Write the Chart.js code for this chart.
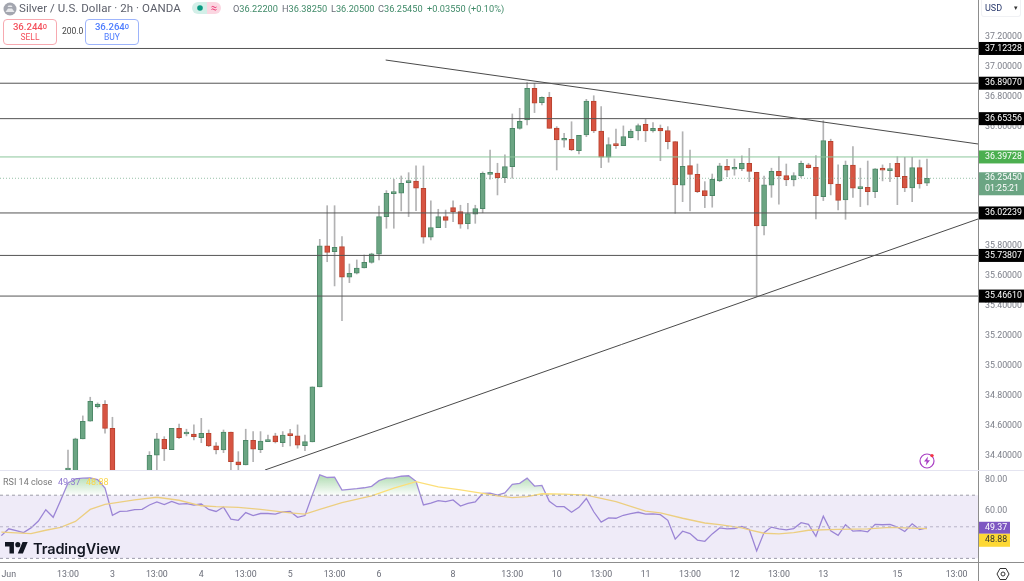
<!DOCTYPE html>
<html lang="en">
<head>
<meta charset="UTF-8" />
<title>Silver / U.S. Dollar 2h</title>
<script src="https://cdn.jsdelivr.net/npm/chart.js"></script>
<style>
  html, body { margin: 0; padding: 0; background: #fff; overflow: hidden; }
  body { width: 1024px; height: 581px; position: relative; font-family: Roboto, Arial, sans-serif; }
  canvas { position: absolute; left: 0; display: block; }
  #priceChart { top: 0; }
  #rsiChart { top: 470px; }
  .abs { position: absolute; white-space: nowrap; }
  .title { left: 19px; top: 1px; font-size: 11.5px; line-height: 15px; color: #5d606b; letter-spacing: .05px; }
  .ohlc { top: 2px; font-size: 9.2px; line-height: 13px; color: #3f8a68; }
  .ohlc b { font-weight: 400; color: #6a6d78; }
  .tradeBox { top: 19px; width: 52px; height: 23px; border: 1px solid; border-radius: 4px; text-align: center; font-size: 9.6px; font-weight: 500; line-height: 11px; padding-top: 1px; }
  .tradeBox small { font-size: 7.5px; vertical-align: 1px; }
  .tradeBox span { display: block; font-size: 8.5px; font-weight: 400; }
  .sell { left: 3px; color: #f4525e; border-color: #f7a9b0; }
  .buy { left: 85px; color: #4d7cfe; border-color: #9db4fb; }
  .spread { left: 62px; top: 25px; font-size: 8.5px; line-height: 12px; color: #444; }
  .usd { left: 981px; top: 0; width: 40px; height: 17px; border: 1px solid #f0f1f4; border-top: none; border-radius: 0 0 3px 3px; font-size: 9px; line-height: 17px; color: #2a3a6e; box-sizing: border-box; padding-left: 3px; }
  .usd i { position: absolute; right: 2px; top: 0; font-style: normal; font-size: 7px; color: #333; }
  .rsiLegend { left: 3px; top: 476px; font-size: 9px; line-height: 13px; color: #777; }
  .rsiLegend em { position: absolute; top: 0; font-style: normal; }
  .logoText { left: 33px; top: 539px; font-family: Inter, Arial, sans-serif; font-size: 14.5px; line-height: 19px; font-weight: 600; color: #131722; letter-spacing: -.1px; }
  .rule { position: absolute; }
</style>
</head>
<body>
<canvas id="priceChart" width="1024" height="470"></canvas>
<canvas id="rsiChart" width="1024" height="111"></canvas>

<div class="rule" style="left:978px;top:0;width:1px;height:581px;background:#8d8d8d"></div>
<div class="rule" style="left:0;top:470px;width:1024px;height:1px;background:#e4e4f0"></div>
<div class="rule" style="left:0;top:562px;width:1024px;height:1px;background:#8d8d8d"></div>

<svg class="abs" style="left:3px;top:2px" width="14" height="14" viewBox="0 0 14 14">
  <circle cx="7" cy="7" r="6.5" fill="#a3a6af"/><path d="M2.5 10 L5 6.5 H9 L11.5 10 Z" fill="#e8e9ec"/><path d="M4.5 5 H9.5 L8.5 3.5 H5.5 Z" fill="#e8e9ec"/>
</svg>
<div class="abs title">Silver / U.S. Dollar · 2h · OANDA</div>
<svg class="abs" style="left:192px;top:2px" width="29" height="12" viewBox="0 0 29 12">
  <path d="M6 0 H15 V12 H6 A6 6 0 0 1 6 0 Z" fill="#d3efe8"/><path d="M15 0 H23 A6 6 0 0 1 23 12 H15 Z" fill="#fbd6e1"/>
  <circle cx="8" cy="6" r="2.8" fill="#089981"/>
  <path d="M19.5 5 q1.2 -1.2 2.5 0 t2.5 0 M19.5 7.5 q1.2 -1.2 2.5 0 t2.5 0" stroke="#e91e63" stroke-width=".9" fill="none"/>
</svg>
<div class="abs ohlc" style="left:233px"><b>O</b>36.22200</div>
<div class="abs ohlc" style="left:282px"><b>H</b>36.38250</div>
<div class="abs ohlc" style="left:331px"><b>L</b>36.20500</div>
<div class="abs ohlc" style="left:378px"><b>C</b>36.25450</div>
<div class="abs ohlc" style="left:427px">+0.03550 (+0.10%)</div>

<div class="abs tradeBox sell">36.244<small>0</small><span>SELL</span></div>
<div class="abs spread">200.0</div>
<div class="abs tradeBox buy">36.264<small>0</small><span>BUY</span></div>
<div class="abs usd">USD<i>▾</i></div>

<div class="abs rsiLegend">RSI 14 close<em style="color:#8f78cf;left:55px">49.37</em><em style="color:#fbd54a;left:83px">48.88</em></div>

<svg class="abs" style="left:5px;top:542px" width="23" height="12" viewBox="0 0 36 18.5">
  <path d="M14 18H7V7H0V0h14v18zM28 18h-8l7.5-18h8L28 18z" fill="#131722"/><circle cx="20" cy="4" r="4" fill="#131722"/>
</svg>
<div class="abs logoText">TradingView</div>

<svg class="abs" style="left:918px;top:452px" width="18" height="18" viewBox="0 0 18 18">
  <circle cx="9" cy="9" r="7" fill="none" stroke="#a93fc4" stroke-width="1.2"/>
  <path d="M10 4.5 L6 9.6 H8.6 L7.8 13.5 L12 8.2 H9.4 Z" fill="#a93fc4"/>
  <circle cx="14" cy="3.6" r="1.7" fill="#f23645"/>
</svg>
<svg class="abs" style="left:996px;top:567px" width="14" height="14" viewBox="0 0 14 14">
  <path d="M4 1.5 H10 L13 7 L10 12.5 H4 L1 7 Z" fill="none" stroke="#333" stroke-width="1"/><circle cx="7" cy="7" r="2" fill="none" stroke="#333" stroke-width="1"/>
</svg>

<script>
  // candles (2h bars, bar 0 is 13:00 on 2 June)
  const opens = [
    34.296,34.296,34.510,34.628,34.726,34.742,34.581,34.235,34.200,34.180,
    34.220,34.270,34.401,34.508,34.438,34.581,34.543,34.543,34.518,34.548,
    34.463,34.436,34.555,34.356,34.336,34.501,34.438,34.492,34.530,34.485,
    34.536,34.530,34.465,34.490,34.858,35.802,35.763,35.797,35.592,35.619,
    35.654,35.692,35.746,35.998,36.152,36.154,36.225,36.235,36.188,35.860,
    35.924,35.998,36.058,36.031,35.951,36.014,36.051,36.281,36.290,36.259,
    36.332,36.589,36.645,36.857,36.761,36.797,36.591,36.509,36.516,36.439,
    36.544,36.772,36.571,36.395,36.480,36.473,36.526,36.571,36.616,36.571,
    36.589,36.573,36.500,36.208,36.339,36.281,36.172,36.138,36.237,36.335,
    36.315,36.317,36.355,36.295,35.935,36.208,36.301,36.272,36.243,36.270,
    36.344,36.328,36.132,36.502,36.216,36.109,36.342,36.185,36.194,36.165,
    36.322,36.306,36.355,36.268,36.190,36.326,36.222
  ];
  const closes = [
    34.309,34.510,34.628,34.762,34.744,34.581,34.235,34.200,34.180,34.220,
    34.270,34.401,34.510,34.443,34.581,34.518,34.548,34.525,34.548,34.463,
    34.436,34.555,34.358,34.336,34.501,34.441,34.496,34.501,34.490,34.536,
    34.532,34.468,34.492,34.858,35.802,35.759,35.793,35.592,35.619,35.654,
    35.692,35.748,35.998,36.154,36.156,36.221,36.235,36.188,35.860,35.924,
    35.998,35.973,36.031,35.947,36.018,36.051,36.288,36.290,36.259,36.332,
    36.589,36.636,36.857,36.757,36.797,36.589,36.511,36.518,36.444,36.542,
    36.772,36.571,36.395,36.480,36.473,36.533,36.571,36.607,36.571,36.589,
    36.571,36.500,36.210,36.335,36.281,36.165,36.138,36.248,36.337,36.308,
    36.324,36.355,36.301,35.935,36.210,36.301,36.270,36.243,36.272,36.355,
    36.326,36.138,36.506,36.216,36.107,36.342,36.188,36.198,36.165,36.317,
    36.308,36.310,36.265,36.190,36.326,36.216,36.2545
  ];
  const highs = [
    34.436,34.515,34.664,34.789,34.751,34.766,34.655,34.270,34.250,34.260,
    34.290,34.425,34.548,34.525,34.581,34.610,34.575,34.604,34.648,34.570,
    34.485,34.570,34.555,34.425,34.575,34.559,34.559,34.536,34.548,34.559,
    34.575,34.604,34.536,34.858,35.846,36.071,36.071,35.864,35.681,35.708,
    35.741,35.753,36.069,36.172,36.248,36.270,36.292,36.337,36.337,36.103,
    36.047,36.042,36.103,36.074,36.087,36.074,36.297,36.444,36.355,36.411,
    36.685,36.723,36.895,36.890,36.800,36.830,36.600,36.556,36.633,36.542,
    36.783,36.807,36.734,36.526,36.583,36.605,36.583,36.618,36.650,36.627,
    36.611,36.600,36.500,36.566,36.444,36.350,36.232,36.283,36.355,36.382,
    36.384,36.404,36.455,36.295,36.270,36.322,36.399,36.350,36.292,36.370,
    36.355,36.406,36.640,36.516,36.344,36.370,36.466,36.322,36.370,36.320,
    36.344,36.355,36.399,36.395,36.395,36.377,36.3825
  ];
  const lows = [
    34.269,34.282,34.510,34.628,34.717,34.548,34.168,34.150,34.120,34.140,
    34.190,34.240,34.289,34.365,34.438,34.512,34.530,34.503,34.485,34.458,
    34.409,34.418,34.290,34.270,34.336,34.358,34.418,34.492,34.483,34.458,
    34.463,34.448,34.431,34.490,34.858,35.696,35.534,35.302,35.556,35.614,
    35.654,35.686,35.708,35.920,35.920,36.036,35.998,36.038,35.820,35.842,
    35.924,35.924,35.964,35.920,35.915,35.953,36.024,36.248,36.143,36.225,
    36.255,36.583,36.611,36.694,36.745,36.589,36.310,36.462,36.439,36.417,
    36.533,36.560,36.326,36.362,36.455,36.473,36.524,36.511,36.500,36.563,
    36.372,36.451,36.020,36.098,36.036,36.158,36.058,36.061,36.232,36.265,
    36.275,36.306,36.232,35.462,35.875,36.127,36.081,36.205,36.203,36.261,
    36.322,35.982,36.105,36.143,36.042,35.980,36.127,36.065,36.076,36.125,
    36.237,36.232,36.078,36.165,36.098,36.188,36.205
  ];

  // drawn levels and trendlines, [bar, price]
  const levelPrices = [37.12328, 36.89070, 36.65356, 36.02239, 35.73807, 35.46610];
  const greenLevel = 36.39728;
  const lastPrice = 36.2545;
  const countdown = '01:25:21';
  const trendDown = [[42.9, 37.046], [122.9, 36.484]];
  const trendUp = [[26.6, 34.302], [122.9, 35.982]];

  // RSI starts 9 bars before bar 0, at the left edge
  const rsiFirstBar = -9;
  const rsiValues = [
    44.4,48.7,47.6,46.3,49.3,53.6,60.8,56.0,66.6,77.7,
    80.3,80.8,81.0,79.9,74.5,57.3,59.7,59.9,60.8,61.0,
    63.8,65.7,64.0,66.1,64.4,64.6,63.8,64.4,61.0,59.7,
    62.5,54.9,54.1,59.0,57.1,58.4,58.4,58.0,59.5,59.7,
    56.0,57.1,70.2,82.9,81.2,81.4,73.2,73.7,74.1,74.7,
    75.6,79.2,80.8,81.0,82.0,82.3,78.8,63.8,65.0,66.6,
    65.9,67.0,63.1,64.8,65.7,71.1,71.3,70.0,71.5,76.9,
    77.5,80.8,75.8,76.2,66.1,62.7,62.7,59.2,62.3,67.9,
    59.5,53.0,55.6,55.4,57.3,58.4,59.2,58.0,58.2,57.7,
    54.1,42.2,47.2,45.7,41.6,40.8,45.5,49.3,48.7,48.9,
    50.2,48.3,34.7,46.3,49.8,48.7,48.1,48.9,52.6,51.5,
    44.0,56.7,47.4,44.6,51.3,47.2,47.6,46.8,51.5,51.3,
    51.5,49.8,47.0,51.9,48.3,49.37
  ];
  const rsiMaBars = [
    -9,-5,-3,-1,1,3,5,9,12,15,18,20,23,26,30,32,34,37,41,44,47,50,53,56,58,60,
    62,64,67,70,74,78,80,83,86,88,91,92,94,96,98,100,104,108,111,116
  ];
  const rsiMaValues = [
    46.6,45.7,47.8,49.6,53.4,61.0,64.2,67.0,68.7,66.8,63.3,62.7,62.3,61.0,58.8,58.0,61.0,65.3,69.6,74.5,78.6,75.2,73.4,71.1,69.6,68.5,
    69.1,70.9,70.7,70.0,65.9,59.9,58.8,55.4,52.4,51.3,49.3,48.1,45.9,45.5,46.3,47.8,48.3,48.7,49.6,48.88
  ];
  const rsiUpper = 70, rsiMiddle = 50, rsiLower = 30;
  const rsiLast = 49.37, rsiMaLast = 48.88;

  // axis ticks
  const priceTicks = [34.4,34.6,34.8,35.0,35.2,35.4,35.6,35.8,36.0,36.2,36.4,36.6,36.8,37.0,37.2];
  const rsiTicks = [60, 80];
  const timeTickBars = [-8,0,6,12,18,24,30,36,42,52,60,66,72,78,84,90,96,102,112,120];
  const timeTickLabels = ['Jun','13:00','3','13:00','4','13:00','5','13:00','6','8','13:00','10','13:00','11','13:00','12','13:00','13','15','13:00'];

  const xMin = -9.183, xMax = 122.89;
  const axisWidth = 46;
  const font = { family: 'Roboto', size: 8.8 };

  const UP = '#6ba583', UP_EDGE = '#4d8868';
  const DOWN = '#d75442', DOWN_EDGE = '#b8432f';
  const bars = opens.map((o, i) => i);

  function flatLine(price, color, width, dash) {
    return {
      type: 'line',
      data: [{ x: xMin, y: price }, { x: xMax, y: price }],
      borderColor: color, borderWidth: width, borderDash: dash || [],
      pointRadius: 0, order: 0
    };
  }

  function segment(ends) {
    return {
      type: 'line',
      data: ends.map(e => ({ x: e[0], y: e[1] })),
      borderColor: '#4a4a4a', borderWidth: 1, pointRadius: 0, order: 0
    };
  }

  // the tick labels must not push the plot area in from the canvas edges
  function noPadding(scale) {
    scale.paddingTop = 0;
    scale.paddingBottom = 0;
    scale.paddingLeft = 0;
    scale.paddingRight = 0;
  }

  function badge(ctx, y, h, w, color, textColor, lines) {
    ctx.save();
    ctx.fillStyle = color;
    ctx.fillRect(979, y - h / 2, w, h);
    ctx.fillStyle = textColor;
    ctx.font = '8.8px Roboto';
    ctx.textAlign = 'left';
    ctx.textBaseline = 'middle';
    lines.forEach((text, i) => {
      ctx.fillText(text, 985, y + (i - (lines.length - 1) / 2) * 11);
    });
    ctx.restore();
  }

  const priceBadges = {
    id: 'priceBadges',
    afterDraw(chart) {
      const ctx = chart.ctx, y = chart.scales.y;
      levelPrices.forEach(p => badge(ctx, y.getPixelForValue(p), 13, 45, '#000', '#fff', [p.toFixed(5)]));
      badge(ctx, y.getPixelForValue(greenLevel), 13, 45, '#4caf50', '#fff', [greenLevel.toFixed(5)]);
      badge(ctx, y.getPixelForValue(lastPrice) + 5.5, 23, 45, UP, '#fff', [lastPrice.toFixed(5), countdown]);
    }
  };

  const rsiBadges = {
    id: 'rsiBadges',
    afterDraw(chart) {
      const ctx = chart.ctx, y = chart.scales.y;
      badge(ctx, y.getPixelForValue(rsiLast), 12, 31, '#7e57c2', '#fff', [rsiLast.toFixed(2)]);
      badge(ctx, y.getPixelForValue(rsiLast) + 12.5, 13, 31, '#fdd835', '#333', [rsiMaLast.toFixed(2)]);
    }
  };

  new Chart(document.getElementById('priceChart'), {
    type: 'bar',
    data: {
      datasets: [
        {
          data: bars.map(i => ({ x: i, y: [lows[i], highs[i]] })),
          backgroundColor: 'rgba(115,115,117,0.55)',
          barThickness: 1, grouped: false, order: 2
        },
        {
          data: bars.map(i => ({ x: i, y: [opens[i], closes[i]] })),
          backgroundColor: bars.map(i => closes[i] >= opens[i] ? UP : DOWN),
          borderColor: bars.map(i => closes[i] >= opens[i] ? UP_EDGE : DOWN_EDGE),
          borderWidth: 1, borderSkipped: false, minBarLength: 2,
          barThickness: 5, grouped: false, order: 1
        },
        ...levelPrices.map(p => flatLine(p, '#555', 1)),
        flatLine(greenLevel, '#8cc79b', 1),
        flatLine(lastPrice, 'rgba(107,165,131,0.7)', 1, [1, 2]),
        segment(trendDown),
        segment(trendUp)
      ]
    },
    options: {
      responsive: false,
      animation: false,
      layout: { padding: 0 },
      plugins: { legend: { display: false }, tooltip: { enabled: false } },
      scales: {
        x: { type: 'linear', min: xMin, max: xMax, display: false, offset: false, grid: { display: false } },
        y: {
          position: 'right',
          min: 34.302, max: 37.4477,
          border: { display: false },
          grid: { display: false, drawTicks: false },
          afterBuildTicks(scale) { scale.ticks = priceTicks.map(v => ({ value: v })); },
          afterFit(scale) { scale.width = axisWidth; noPadding(scale); },
          ticks: { color: '#7b7e88', font, padding: 7, autoSkip: false, callback: v => v.toFixed(5) }
        }
      }
    },
    plugins: [priceBadges]
  });

  const rsiCanvas = document.getElementById('rsiChart');
  const overbought = rsiCanvas.getContext('2d').createLinearGradient(0, 8, 0, 26);
  overbought.addColorStop(0, 'rgba(76,175,80,0.38)');
  overbought.addColorStop(1, 'rgba(76,175,80,0)');

  new Chart(rsiCanvas, {
    type: 'line',
    data: {
      datasets: [
        {
          data: [{ x: xMin, y: rsiUpper }, { x: xMax, y: rsiUpper }],
          borderColor: '#9d9da8', borderWidth: 1, borderDash: [3, 3], pointRadius: 0,
          fill: '+1', backgroundColor: 'rgba(126,87,194,0.12)'
        },
        {
          data: [{ x: xMin, y: rsiLower }, { x: xMax, y: rsiLower }],
          borderColor: '#9d9da8', borderWidth: 1, borderDash: [3, 3], pointRadius: 0
        },
        {
          data: [{ x: xMin, y: rsiMiddle }, { x: xMax, y: rsiMiddle }],
          borderColor: '#c0c0c8', borderWidth: 1, borderDash: [3, 3], pointRadius: 0
        },
        {
          data: rsiMaValues.map((v, k) => ({ x: rsiMaBars[k], y: v })),
          borderColor: '#fcdf78', borderWidth: 1.3, pointRadius: 0
        },
        {
          data: rsiValues.map((v, k) => ({ x: k + rsiFirstBar, y: v })),
          borderColor: '#a08bd8', borderWidth: 1.3, pointRadius: 0,
          fill: { target: { value: rsiUpper }, above: overbought, below: 'rgba(0,0,0,0)' }
        }
      ]
    },
    options: {
      responsive: false,
      animation: false,
      layout: { padding: 0 },
      plugins: { legend: { display: false }, tooltip: { enabled: false } },
      scales: {
        x: {
          type: 'linear', min: xMin, max: xMax,
          border: { display: false },
          grid: { display: false, drawTicks: false },
          afterBuildTicks(scale) { scale.ticks = timeTickBars.map(v => ({ value: v })); },
          afterFit(scale) { scale.height = 19; noPadding(scale); },
          ticks: {
            color: '#6a6d78', font, padding: 8, autoSkip: false, maxRotation: 0,
            callback: (v, i) => timeTickLabels[i]
          }
        },
        y: {
          position: 'right',
          min: 27.7, max: 85.95,
          border: { display: false },
          grid: { display: false, drawTicks: false },
          afterBuildTicks(scale) { scale.ticks = rsiTicks.map(v => ({ value: v })); },
          afterFit(scale) { scale.width = axisWidth; noPadding(scale); },
          ticks: { color: '#7b7e88', font, padding: 7, autoSkip: false, callback: v => v.toFixed(2) }
        }
      }
    },
    plugins: [rsiBadges]
  });
</script>
</body>
</html>
